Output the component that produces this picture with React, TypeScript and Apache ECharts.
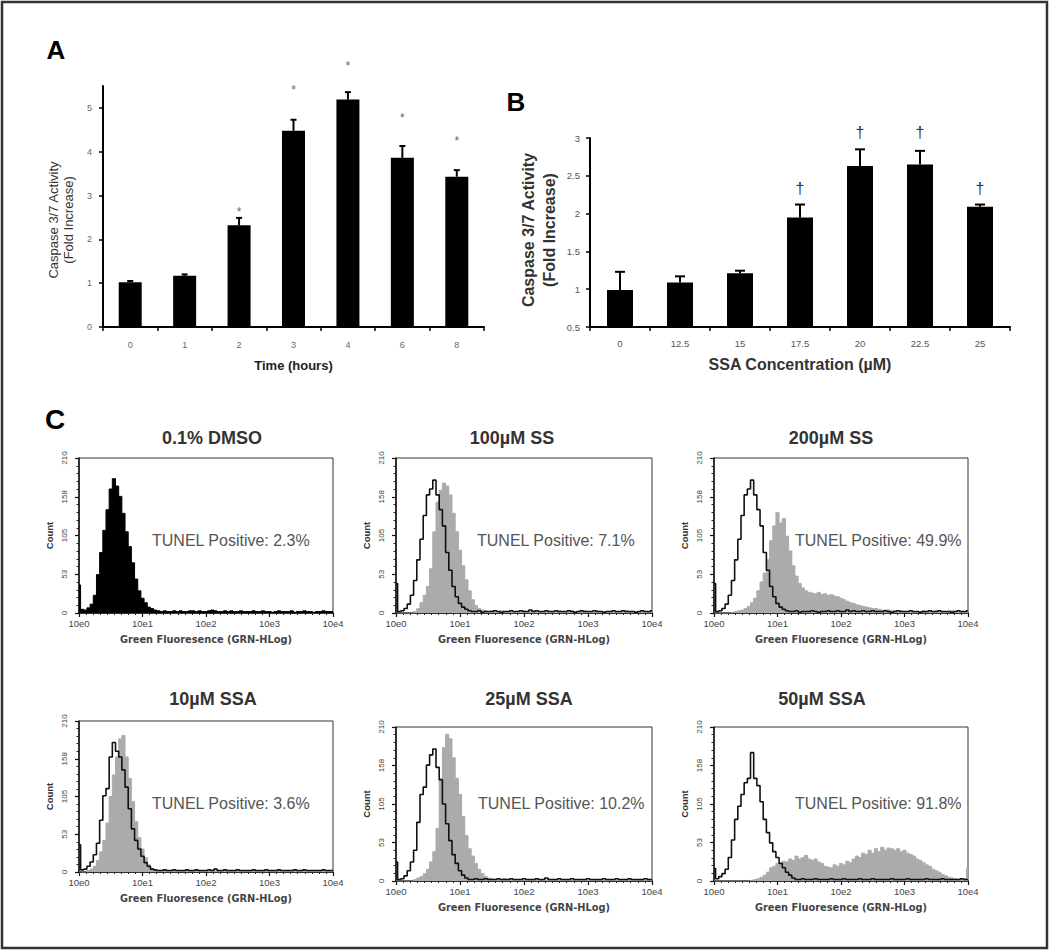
import React, { useEffect, useRef } from 'react';
import * as echarts from 'echarts';

// ---------- Panel A data ----------
const A_CATS = ['0', '1', '2', '3', '4', '6', '8'];
const A_MEAN = [1.02, 1.17, 2.32, 4.48, 5.19, 3.86, 3.43];
const A_ERR_TOP = [1.05, 1.2, 2.49, 4.73, 5.36, 4.13, 3.58];
const A_MARKS = ['', '', '*', '*', '*', '*', '*'];
const A_MARK_Y = [0, 0, 2.69, 5.48, 6.03, 4.84, 4.32];
const A_Y_TICKS = [0, 1, 2, 3, 4, 5];

// ---------- Panel B data ----------
const B_CATS = ['0', '12.5', '15', '17.5', '20', '22.5', '25'];
const B_MEAN = [0.99, 1.09, 1.21, 1.95, 2.63, 2.65, 2.09];
const B_ERR_TOP = [1.23, 1.17, 1.245, 2.12, 2.85, 2.83, 2.12];
const B_MARKS = ['', '', '', '\u2020', '\u2020', '\u2020', '\u2020'];
const B_MARK_Y = [0, 0, 0, 2.35, 3.09, 3.09, 2.35];

// ---------- Panel C data (counts per log10 bin, 0.00 .. 4.00 step 0.05) ----------
const LOG_BINS = Array.from({ length: 81 }, (_, i) => Math.round(i * 5) / 100);
const HIST_X_TICK_LABELS = ['10e0', '10e1', '10e2', '10e3', '10e4'];
const HIST_Y_TICK_LABELS = ['0', '53', '105', '158', '210'];
const HIST_TITLES = ['0.1% DMSO', '100\u00b5M SS', '200\u00b5M SS', '10\u00b5M SSA', '25\u00b5M SSA', '50\u00b5M SSA'];
const TUNEL_PCT = ['2.3%', '7.1%', '49.9%', '3.6%', '10.2%', '91.8%'];

const DMSO_FILL = [
  38, 5, 4, 7, 12, 24, 52, 82, 112, 140,
  168, 182, 172, 158, 135, 110, 90, 68, 46, 30,
  20, 14, 8, 6, 4, 3, 2, 3, 2, 2,
  3, 2, 3, 2, 2, 3, 3, 2, 3, 2,
  2, 3, 4, 3, 2, 2, 3, 2, 3, 2,
  2, 3, 2, 2, 2, 3, 2, 2, 3, 2,
  2, 1, 2, 3, 2, 2, 2, 3, 1, 2,
  2, 3, 2, 2, 1, 2, 2, 3, 2, 2,
  2,
];
const SS_CTRL = [
  40, 2, 3, 6, 12, 24, 44, 72, 100, 132,
  160, 168, 180, 160, 140, 118, 82, 58, 36, 22,
  13, 8, 5, 3, 2, 2, 3, 1, 2, 2,
  2, 3, 2, 1, 2, 2, 3, 2, 2, 3,
  2, 2, 4, 2, 3, 2, 2, 3, 2, 2,
  3, 2, 2, 2, 3, 2, 1, 2, 3, 2,
  2, 2, 3, 2, 2, 1, 2, 2, 3, 2,
  2, 3, 2, 2, 2, 1, 2, 3, 2, 2,
  3,
];
const SS100_FILL = [
  0, 0, 0, 0, 0, 0, 2, 6, 14, 24,
  36, 60, 110, 150, 166, 176, 172, 160, 135, 110,
  85, 64, 45, 30, 18, 10, 6, 4, 3, 2,
  3, 2, 2, 3, 2, 2, 3, 2, 2, 2,
  3, 2, 2, 3, 2, 2, 2, 3, 2, 2,
  2, 3, 2, 2, 2, 3, 2, 2, 2, 3,
  2, 2, 2, 3, 2, 2, 2, 2, 3, 2,
  2, 2, 3, 2, 2, 2, 2, 3, 2, 2,
  2,
];
const SS200_FILL = [
  0, 0, 0, 0, 0, 0, 1, 2, 3, 4,
  6, 9, 14, 20, 30, 42, 54, 72, 98, 118,
  136, 122, 128, 104, 84, 64, 50, 40, 34, 30,
  28, 27, 26, 28, 25, 26, 24, 25, 23, 22,
  20, 18, 16, 14, 13, 11, 10, 9, 8, 7,
  6, 6, 5, 4, 4, 4, 3, 3, 2, 3,
  2, 2, 3, 2, 2, 2, 3, 2, 2, 2,
  3, 2, 2, 2, 2, 3, 2, 2, 2, 2,
  2,
];
const SSA10_CTRL = [
  38, 3, 4, 8, 14, 24, 40, 72, 106, 116,
  160, 180, 168, 160, 142, 118, 88, 60, 44, 32,
  22, 13, 8, 4, 3, 2, 2, 3, 2, 2,
  3, 2, 2, 2, 3, 2, 2, 3, 2, 2,
  2, 3, 2, 4, 2, 2, 3, 2, 2, 2,
  3, 2, 2, 2, 2, 3, 2, 2, 2, 3,
  2, 2, 2, 3, 2, 2, 2, 2, 3, 2,
  2, 3, 2, 2, 2, 2, 2, 3, 2, 2,
  2,
];
const SSA10_FILL = [
  0, 0, 0, 2, 4, 8, 16, 28, 44, 68,
  105, 135, 160, 185, 190, 160, 130, 98, 70, 48,
  32, 20, 10, 5, 3, 2, 2, 2, 1, 2,
  1, 2, 1, 1, 2, 1, 1, 2, 1, 1,
  1, 1, 2, 1, 1, 1, 2, 1, 1, 1,
  1, 2, 1, 1, 1, 1, 2, 1, 1, 1,
  1, 1, 1, 2, 1, 1, 1, 1, 2, 1,
  1, 1, 1, 1, 2, 1, 1, 1, 1, 1,
  1,
];
const SSA25_CTRL = [
  26, 2, 3, 7, 14, 26, 42, 80, 118, 128,
  158, 172, 180, 155, 138, 105, 78, 55, 36, 24,
  14, 8, 4, 2, 2, 3, 2, 2, 3, 2,
  2, 2, 3, 2, 2, 2, 3, 2, 2, 2,
  3, 2, 2, 2, 3, 2, 2, 4, 2, 2,
  2, 3, 2, 2, 2, 3, 2, 2, 2, 2,
  3, 2, 2, 2, 2, 3, 2, 2, 2, 3,
  2, 2, 2, 3, 2, 2, 2, 2, 3, 2,
  2,
];
const SSA25_FILL = [
  0, 0, 0, 0, 0, 0, 2, 4, 6, 10,
  16, 26, 40, 72, 140, 182, 200, 194, 168, 140,
  118, 88, 62, 44, 34, 24, 16, 10, 6, 4,
  3, 2, 2, 2, 3, 2, 2, 2, 2, 2,
  1, 2, 1, 1, 2, 1, 1, 1, 2, 1,
  1, 1, 2, 1, 1, 1, 1, 2, 1, 1,
  1, 2, 1, 1, 1, 1, 2, 1, 1, 1,
  1, 1, 1, 2, 1, 1, 1, 1, 1, 1,
  1,
];
const SSA50_CTRL = [
  17, 3, 6, 10, 16, 32, 56, 84, 102, 118,
  134, 140, 175, 140, 130, 108, 84, 66, 52, 40,
  32, 24, 18, 12, 8, 4, 2, 2, 3, 2,
  2, 2, 3, 2, 2, 2, 2, 3, 2, 2,
  2, 3, 2, 2, 2, 2, 3, 2, 2, 2,
  3, 2, 2, 2, 2, 2, 3, 2, 2, 2,
  2, 3, 2, 2, 2, 2, 2, 3, 2, 2,
  2, 2, 3, 2, 2, 2, 2, 2, 3, 2,
  2,
];
const SSA50_FILL = [
  0, 0, 0, 0, 0, 0, 0, 0, 0, 0,
  0, 0, 1, 2, 3, 5, 8, 12, 18, 20,
  24, 22, 27, 26, 30, 28, 34, 30, 32, 35,
  30, 28, 30, 26, 24, 20, 19, 18, 22, 20,
  24, 22, 27, 25, 30, 34, 32, 38, 36, 42,
  38, 44, 40, 46, 42, 45, 44, 42, 44, 40,
  42, 38, 36, 34, 30, 28, 25, 22, 20, 16,
  14, 12, 9, 7, 5, 4, 3, 2, 2, 3,
  18,
];

const HIST_FILLS = [DMSO_FILL, SS100_FILL, SS200_FILL, SSA10_FILL, SSA25_FILL, SSA50_FILL];
const HIST_OUTLINES = [null, SS_CTRL, SS_CTRL, SSA10_CTRL, SSA25_CTRL, SSA50_CTRL];

// ---------- layout / style ----------
const SANS = '"Liberation Sans", Arial, Helvetica, sans-serif';
const FILL_COLORS = ['#000000', '#ababab', '#ababab', '#ababab', '#ababab', '#ababab'];
const HIST_GRIDS = [
  { left: 79, top: 458, width: 254, height: 155 },
  { left: 396, top: 458, width: 256, height: 155 },
  { left: 714, top: 458, width: 254, height: 155 },
  { left: 79, top: 721, width: 254, height: 151 },
  { left: 396, top: 727, width: 256, height: 154 },
  { left: 714, top: 727, width: 254, height: 154 },
];
const TITLE_POS = [[212, 438], [512, 438], [831, 438], [213, 699], [529, 699], [822, 699]];
const TUNEL_POS = [[152, 540], [477, 540], [795, 540], [152, 803], [478, 803], [795, 803]];

function errRenderer(cap: number) {
  return (_p: any, api: any) => {
    const i = api.value(0);
    const p0 = api.coord([i, api.value(1)]);
    const p1 = api.coord([i, api.value(2)]);
    return {
      type: 'group',
      children: [
        { type: 'line', shape: { x1: p0[0], y1: p0[1], x2: p1[0], y2: p1[1] }, style: { stroke: '#000', lineWidth: 2 } },
        { type: 'line', shape: { x1: p1[0] - cap, y1: p1[1], x2: p1[0] + cap, y2: p1[1] }, style: { stroke: '#000', lineWidth: 2 } },
      ],
    };
  };
}

function markRenderer(marks: string[], size: number, color: string, dy: number) {
  return (_p: any, api: any) => {
    const i = api.value(0);
    const p = api.coord([i, api.value(1)]);
    return {
      type: 'text',
      x: p[0],
      y: p[1] + dy,
      style: { text: marks[i], fill: color, font: `${size}px ${SANS}`, align: 'center', verticalAlign: 'middle' },
    };
  };
}

function buildOption(): any {
  const grid: any[] = [
    { left: 103, top: 86, width: 381, height: 241, show: false },
    { left: 590, top: 138, width: 420, height: 189, show: false },
    ...HIST_GRIDS.map((g) => ({ ...g, show: true, borderColor: '#333', borderWidth: 1, backgroundColor: 'transparent' })),
  ];

  const xAxis: any[] = [
    {
      gridIndex: 0, type: 'category', data: A_CATS,
      axisLine: { lineStyle: { color: '#000', width: 2 } },
      axisTick: { show: true, alignWithLabel: false, length: 4, lineStyle: { color: '#000', width: 1.5 } },
      axisLabel: { fontSize: 9, color: '#666', margin: 13, fontFamily: SANS },
      name: 'Time (hours)', nameLocation: 'middle', nameGap: 38,
      nameTextStyle: { fontSize: 13, fontWeight: 'bold', color: '#222', fontFamily: SANS, verticalAlign: 'middle' },
    },
    {
      gridIndex: 1, type: 'category', data: B_CATS,
      axisLine: { lineStyle: { color: '#000', width: 2 } },
      axisTick: { show: true, alignWithLabel: false, length: 4, lineStyle: { color: '#000', width: 1.5 } },
      axisLabel: { fontSize: 9.5, color: '#555', margin: 11, fontFamily: SANS },
      name: 'SSA Concentration (\u00b5M)', nameLocation: 'middle', nameGap: 37,
      nameTextStyle: { fontSize: 16, fontWeight: 'bold', color: '#333', fontFamily: SANS, verticalAlign: 'middle' },
    },
    ...HIST_GRIDS.map((_, k) => ({
      gridIndex: k + 2, type: 'value', min: 0, max: 4, interval: 1,
      axisLine: { onZero: false, lineStyle: { color: '#111', width: 1.5 } },
      axisTick: { show: true, length: 4, lineStyle: { color: '#111', width: 1.2 } },
      minorTick: { show: true, splitNumber: 9, length: 2, lineStyle: { color: '#222', width: 1 } },
      splitLine: { show: false },
      axisLabel: { fontSize: 9.5, color: '#444', margin: 5, fontFamily: SANS, formatter: (v: number) => HIST_X_TICK_LABELS[Math.round(v)] },
      name: 'Green Fluoresence (GRN-HLog)', nameLocation: 'middle', nameGap: 26,
      nameTextStyle: { fontSize: 9.8, fontWeight: 'bold', color: '#444', fontFamily: '"DejaVu Sans", sans-serif', verticalAlign: 'middle' },
    })),
  ];

  const yAxis: any[] = [
    {
      gridIndex: 0, type: 'value', min: 0, max: 5.5, interval: 1,
      axisLine: { show: true, lineStyle: { color: '#000', width: 2 } },
      axisTick: { show: true, length: 4, customValues: A_Y_TICKS, lineStyle: { color: '#000', width: 1.5 } },
      axisLabel: { fontSize: 9, color: '#666', margin: 11, fontFamily: SANS, customValues: A_Y_TICKS },
      splitLine: { show: false },
    },
    {
      gridIndex: 1, type: 'value', min: 0.5, max: 3, interval: 0.5,
      axisLine: { show: true, lineStyle: { color: '#000', width: 2 } },
      axisTick: { show: true, length: 4, lineStyle: { color: '#000', width: 1.5 } },
      axisLabel: { fontSize: 9.5, color: '#555', margin: 10, fontFamily: SANS },
      splitLine: { show: false },
    },
    ...HIST_GRIDS.map((_, k) => ({
      gridIndex: k + 2, type: 'value', min: 0, max: 210, interval: 52.5,
      axisLine: { show: true, lineStyle: { color: '#111', width: 1.5 } },
      axisTick: { show: true, length: 4, lineStyle: { color: '#111', width: 1.2 } },
      minorTick: { show: true, splitNumber: 5, length: 2.5, lineStyle: { color: '#222', width: 1 } },
      splitLine: { show: false },
      axisLabel: {
        fontSize: 8, color: '#444', margin: 11, rotate: 90, fontFamily: SANS,
        formatter: (v: number) => HIST_Y_TICK_LABELS[Math.round(v / 52.5)],
      },
      name: 'Count', nameLocation: 'middle', nameGap: 30, nameRotate: 90,
      nameTextStyle: { fontSize: 9.5, fontWeight: 'bold', color: '#333', fontFamily: SANS, verticalAlign: 'middle' },
    })),
  ];

  const series: any[] = [
    { type: 'bar', xAxisIndex: 0, yAxisIndex: 0, data: A_MEAN, barWidth: 23, itemStyle: { color: '#000' }, z: 2 },
    {
      type: 'custom', xAxisIndex: 0, yAxisIndex: 0, clip: false, z: 3,
      data: A_MEAN.map((m, i) => [i, m, A_ERR_TOP[i]]),
      encode: { x: 0, y: [1, 2] },
      renderItem: errRenderer(3),
    },
    {
      type: 'custom', xAxisIndex: 0, yAxisIndex: 0, clip: false, z: 3,
      data: A_MARK_Y.map((y, i) => [i, y]).filter((_, i) => A_MARKS[i] !== ''),
      encode: { x: 0, y: 1 },
      renderItem: markRenderer(A_MARKS, 12, '#666', 3),
    },
    { type: 'bar', xAxisIndex: 1, yAxisIndex: 1, data: B_MEAN, barWidth: 26, itemStyle: { color: '#000' }, z: 2 },
    {
      type: 'custom', xAxisIndex: 1, yAxisIndex: 1, clip: false, z: 3,
      data: B_MEAN.map((m, i) => [i, m, B_ERR_TOP[i]]),
      encode: { x: 0, y: [1, 2] },
      renderItem: errRenderer(5),
    },
    {
      type: 'custom', xAxisIndex: 1, yAxisIndex: 1, clip: false, z: 3,
      data: B_MARK_Y.map((y, i) => [i, y]).filter((_, i) => B_MARKS[i] !== ''),
      encode: { x: 0, y: 1 },
      renderItem: markRenderer(B_MARKS, 16, '#333', 1),
    },
  ];

  HIST_FILLS.forEach((fill, k) => {
    series.push({
      type: 'line', xAxisIndex: k + 2, yAxisIndex: k + 2, step: 'middle',
      data: fill.map((c, i) => [LOG_BINS[i], c]),
      showSymbol: false, symbol: 'none', silent: true,
      lineStyle: { color: FILL_COLORS[k], width: 1 },
      areaStyle: { color: FILL_COLORS[k], opacity: 1 },
      z: 2,
    });
    const outline = HIST_OUTLINES[k];
    if (outline) {
      series.push({
        type: 'line', xAxisIndex: k + 2, yAxisIndex: k + 2, step: 'middle',
        data: outline.map((c, i) => [LOG_BINS[i], c]),
        showSymbol: false, symbol: 'none', silent: true,
        lineStyle: { color: '#111', width: 1.6 },
        z: 3,
      });
    }
  });

  const graphic: any[] = [
    { type: 'rect', shape: { x: 2, y: 2, width: 1045, height: 946 }, style: { fill: 'none', stroke: '#333', lineWidth: 2.5 }, silent: true },
    { type: 'text', x: 56, y: 50, style: { text: 'A', font: `bold 26px ${SANS}`, fill: '#000', align: 'center', verticalAlign: 'middle' } },
    { type: 'text', x: 516, y: 102, style: { text: 'B', font: `bold 26px ${SANS}`, fill: '#000', align: 'center', verticalAlign: 'middle' } },
    { type: 'text', x: 55, y: 419, style: { text: 'C', font: `bold 28px ${SANS}`, fill: '#000', align: 'center', verticalAlign: 'middle' } },
    {
      type: 'text', x: 60.5, y: 220, rotation: Math.PI / 2,
      style: { text: 'Caspase 3/7 Activity\n(Fold Increase)', font: `13px ${SANS}`, lineHeight: 15, fill: '#333', align: 'center', verticalAlign: 'middle' },
    },
    {
      type: 'text', x: 539, y: 230, rotation: Math.PI / 2,
      style: { text: 'Caspase 3/7 Activity\n(Fold Increase)', font: `bold 16px ${SANS}`, lineHeight: 21, fill: '#333', align: 'center', verticalAlign: 'middle' },
    },
  ];
  HIST_TITLES.forEach((t, k) => {
    graphic.push({
      type: 'text', x: TITLE_POS[k][0], y: TITLE_POS[k][1],
      style: { text: t, font: `bold 18px ${SANS}`, fill: '#333', align: 'center', verticalAlign: 'middle' },
    });
    graphic.push({
      type: 'text', x: TUNEL_POS[k][0], y: TUNEL_POS[k][1],
      style: { text: 'TUNEL Positive: ' + TUNEL_PCT[k], font: `16px ${SANS}`, fill: '#555', align: 'left', verticalAlign: 'middle' },
    });
  });

  return { animation: false, backgroundColor: '#fff', grid, xAxis, yAxis, series, graphic };
}

export default function App() {
  const ref = useRef<HTMLDivElement>(null);
  useEffect(() => {
    const chart = echarts.init(ref.current as HTMLDivElement, null, { renderer: 'svg', width: 1050, height: 951 });
    chart.setOption(buildOption());
    return () => chart.dispose();
  }, []);
  return <div ref={ref} style={{ position: 'absolute', left: 0, top: 0, width: 1050, height: 951, background: '#fff' }} />;
}
